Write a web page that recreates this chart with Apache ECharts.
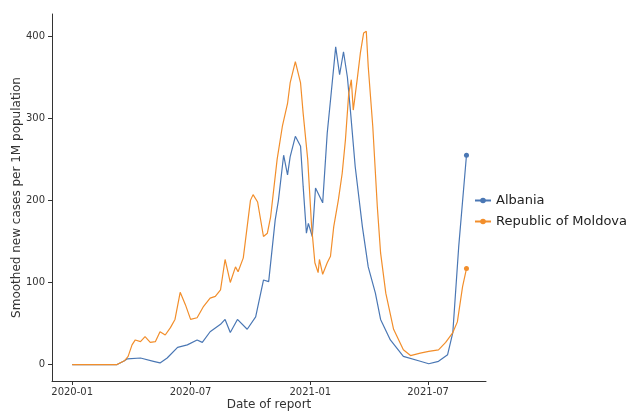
<!DOCTYPE html>
<html>
<head>
<meta charset="utf-8">
<script src="https://cdn.jsdelivr.net/npm/echarts@6/dist/echarts.min.js"></script>
<style>
html,body{margin:0;padding:0;background:#fff;}
#chart{width:629px;height:411px;}
</style>
</head>
<body>
<div id="chart"></div>
<script>
// Albania
const albaniaDates = ['2020-01-01','2020-03-10','2020-03-20','2020-03-26','2020-04-15','2020-05-05','2020-05-15','2020-05-26','2020-06-11','2020-06-26','2020-07-11','2020-07-19','2020-07-31','2020-08-16','2020-08-23','2020-08-31','2020-09-11','2020-09-26','2020-10-09','2020-10-21','2020-10-29','2020-11-08','2020-11-13','2020-11-21','2020-11-27','2020-12-01','2020-12-09','2020-12-17','2020-12-21','2020-12-26','2020-12-29','2021-01-04','2021-01-09','2021-01-20','2021-01-27','2021-02-01','2021-02-09','2021-02-15','2021-02-21','2021-02-27','2021-03-04','2021-03-11','2021-03-22','2021-03-31','2021-04-11','2021-04-19','2021-05-04','2021-05-24','2021-06-19','2021-07-02','2021-07-17','2021-07-31','2021-08-08','2021-08-17','2021-08-29'];
const albaniaValues = [0,0,4,7,8,4,2,8,21,24,30,27,40,49,55,39,55,43,58,103,101,176,200,255,231,253,278,266,217,160,172,156,215,197,282,322,387,353,381,350,306,241,168,119,87,55,30,10,4,1,4,12,39,143,255];
// Republic of Moldova
const moldovaDates = ['2020-01-01','2020-03-10','2020-03-22','2020-03-27','2020-04-02','2020-04-07','2020-04-15','2020-04-22','2020-04-30','2020-05-08','2020-05-15','2020-05-23','2020-05-31','2020-06-07','2020-06-15','2020-06-23','2020-07-01','2020-07-11','2020-07-21','2020-07-31','2020-08-08','2020-08-16','2020-08-23','2020-08-31','2020-09-08','2020-09-12','2020-09-20','2020-10-01','2020-10-05','2020-10-12','2020-10-21','2020-10-27','2020-11-01','2020-11-11','2020-11-19','2020-11-27','2020-12-01','2020-12-09','2020-12-17','2020-12-21','2020-12-28','2021-01-03','2021-01-08','2021-01-13','2021-01-15','2021-01-20','2021-01-27','2021-02-01','2021-02-06','2021-02-13','2021-02-19','2021-02-24','2021-03-01','2021-03-05','2021-03-08','2021-03-14','2021-03-19','2021-03-24','2021-03-28','2021-03-31','2021-04-07','2021-04-14','2021-04-19','2021-04-27','2021-05-09','2021-05-24','2021-06-04','2021-06-19','2021-07-02','2021-07-17','2021-07-28','2021-08-08','2021-08-15','2021-08-23','2021-08-29'];
const moldovaValues = [0,0,5,10,24,30,28,34,27,28,40,36,45,55,88,73,55,57,71,81,83,91,128,100,119,113,130,200,207,198,156,160,180,250,290,318,343,369,343,306,250,168,124,112,128,110,124,132,168,200,233,274,330,347,310,347,380,404,406,363,290,192,136,87,43,18,11,14,16,18,27,39,52,95,117];

const xTickLabels = ['2020-01','2020-07','2021-01','2021-07'];
const yTickLabels = [0,100,200,300,400];

const seriesNames = ['Albania','Republic of Moldova'];
const colors = ['#4a77b4','#f28e2b'];

const ts = s => Date.parse(s + 'T00:00:00Z');
function toData(dates, vals){
  return dates.map((d,i)=>{
    const item = {value:[ts(d), vals[i]]};
    if(i !== dates.length-1) item.symbol = 'none';
    return item;
  });
}
const xTickValues = xTickLabels.map(s => ts(s + '-01'));
const font = 'DejaVu Sans';
const chart = echarts.init(document.getElementById('chart'), null, {renderer:'canvas'});
chart.setOption({
  animation:false,
  backgroundColor:'#fff',
  grid:{left:52,right:143,top:14,bottom:30,containLabel:false,outerBoundsMode:'none'},
  legend:{
    orient:'vertical', left:474, top:194, padding:0,
    itemWidth:16, itemHeight:7, itemGap:8,
    textStyle:{fontFamily:font,fontSize:13,color:'#222'},
    data:seriesNames
  },
  xAxis:{
    type:'value',
    min:ts('2019-12-01'), max:ts('2021-09-28'),
    name:'Date of report', nameLocation:'middle', nameGap:18, nameMoveOverlap:false,
    nameTextStyle:{fontFamily:font,fontSize:12,color:'#333'},
    axisLine:{onZero:false,lineStyle:{color:'#333',width:1}},
    axisTick:{show:true,length:4,lineStyle:{color:'#333'},customValues:xTickValues},
    axisLabel:{fontFamily:font,fontSize:10,color:'#333',margin:6,
      customValues:xTickValues,
      formatter:function(v){const d=new Date(v);const m=d.getUTCMonth()+1;return d.getUTCFullYear()+'-'+(m<10?'0':'')+m;}},
    splitLine:{show:false}
  },
  yAxis:{
    type:'value', min:-20, max:427,
    name:'Smoothed new cases per 1M population', nameLocation:'middle', nameGap:29, nameMoveOverlap:false,
    nameTextStyle:{fontFamily:font,fontSize:12,color:'#333'},
    axisLine:{show:true,onZero:false,lineStyle:{color:'#333',width:1}},
    axisTick:{show:true,length:4,lineStyle:{color:'#333'},customValues:yTickLabels},
    axisLabel:{fontFamily:font,fontSize:10,color:'#333',margin:7,customValues:yTickLabels},
    splitLine:{show:false}
  },
  series:[
    {name:seriesNames[0],type:'line',data:toData(albaniaDates,albaniaValues),
     symbol:'circle',symbolSize:5,showSymbol:true,
     lineStyle:{color:colors[0],width:1.2},itemStyle:{color:colors[0]},z:2},
    {name:seriesNames[1],type:'line',data:toData(moldovaDates,moldovaValues),
     symbol:'circle',symbolSize:5,showSymbol:true,
     lineStyle:{color:colors[1],width:1.2},itemStyle:{color:colors[1]},z:3}
  ]
});
</script>
</body>
</html>
